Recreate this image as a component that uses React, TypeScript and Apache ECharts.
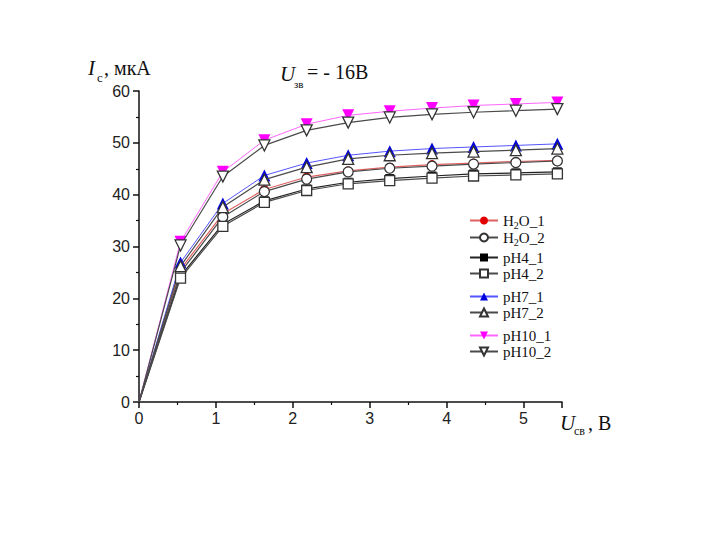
import React, { useEffect, useRef } from "react";
import * as echarts from "echarts";

const xValues = [0, 0.54, 1.09, 1.63, 2.18, 2.72, 3.26, 3.81, 4.35, 4.9, 5.44];
const h2o1 = [0, 25.6, 36.3, 41.0, 43.4, 44.6, 45.3, 45.8, 46.1, 46.4, 46.6];
const h2o2 = [0, 25.0, 35.7, 40.6, 43.0, 44.4, 45.1, 45.5, 45.9, 46.2, 46.5];
const ph41 = [0, 24.3, 34.3, 38.8, 41.1, 42.4, 43.1, 43.6, 44.0, 44.2, 44.4];
const ph42 = [0, 23.9, 33.9, 38.5, 40.8, 42.1, 42.7, 43.2, 43.6, 43.8, 44.0];
const ph71 = [0, 26.9, 38.3, 43.7, 46.1, 47.6, 48.4, 48.9, 49.2, 49.5, 49.8];
const ph72 = [0, 26.2, 37.6, 42.9, 45.3, 46.9, 47.6, 48.0, 48.3, 48.6, 48.9];
const ph101 = [0, 30.9, 44.4, 50.5, 53.6, 55.3, 56.1, 56.7, 57.2, 57.5, 57.8];
const ph102 = [0, 30.2, 43.5, 49.5, 52.4, 53.9, 54.9, 55.5, 55.9, 56.2, 56.5];

const seriesNames = ["H2O_1", "H2O_2", "pH4_1", "pH4_2", "pH7_1", "pH7_2", "pH10_1", "pH10_2"];
const xTicks = { min: 0, max: 5.5, interval: 1 };
const yTicks = { min: 0, max: 60, interval: 10 };

const serif = "Liberation Serif";
const sans = "Liberation Sans";

function pairs(ys: number[]) {
  return xValues.map((x, i) =>
    i === 0 ? { value: [x, ys[i]], symbol: "none" } : { value: [x, ys[i]] }
  );
}

export default function App() {
  const ref = useRef<HTMLDivElement>(null);
  useEffect(() => {
    if (!ref.current) return;
    const chart = echarts.init(ref.current, undefined, { renderer: "svg" });
    const gray = "#4a4a4a";
    const open = (symbol: string, rotate = 0) => ({
      symbol,
      symbolRotate: rotate,
      itemStyle: { color: "#ffffff", borderColor: "#333333", borderWidth: 1.3 },
      lineStyle: { color: gray, width: 1.2 },
    });
    const mk = (name: string, ys: number[], extra: any, z: number) => ({
      name,
      type: "line",
      data: pairs(ys),
      symbolSize: 10,
      z,
      ...extra,
    });
    const series = [
      mk(seriesNames[0], h2o1, {
        symbol: "circle",
        symbolSize: 9,
        itemStyle: { color: "#e00000" },
        lineStyle: { color: "#e06060", width: 1.2 },
      }, 2),
      mk(seriesNames[1], h2o2, { ...open("circle"), symbolSize: 10 }, 3),
      mk(seriesNames[2], ph41, {
        symbol: "rect",
        symbolSize: 9,
        itemStyle: { color: "#000000" },
        lineStyle: { color: "#222222", width: 1.2 },
      }, 2),
      mk(seriesNames[3], ph42, { ...open("rect"), symbolSize: 10 }, 3),
      mk(seriesNames[4], ph71, {
        symbol: "triangle",
        symbolSize: 12,
        itemStyle: { color: "#0000dd" },
        lineStyle: { color: "#5555ff", width: 1 },
      }, 2),
      mk(seriesNames[5], ph72, { ...open("triangle"), symbolSize: 11 }, 3),
      mk(seriesNames[6], ph101, {
        symbol: "triangle",
        symbolRotate: 180,
        symbolSize: 12,
        itemStyle: { color: "#ff00ff" },
        lineStyle: { color: "#ff66ff", width: 1 },
      }, 2),
      mk(seriesNames[7], ph102, { ...open("triangle", 180), symbolSize: 11 }, 3),
    ];

    const legendRich = {
      a: { fontFamily: serif, fontSize: 15, color: "#111", lineHeight: 16 },
      s: { fontFamily: serif, fontSize: 10, color: "#111", lineHeight: 9, padding: [9, 0, 0, 0] },
    };
    const fmt = (n: string) =>
      n.startsWith("H2O") ? `{a|H}{s|2}{a|${n.slice(2)}}` : `{a|${n}}`;
    const legendTops = [211, 250, 289, 328];
    const legendGaps = [-2, 1, 1, 1];
    const legends = legendTops.map((top, i) => ({
      data: [seriesNames[2 * i], seriesNames[2 * i + 1]],
      orient: "vertical",
      left: 469,
      top,
      padding: 0,
      itemWidth: 28,
      itemHeight: 10,
      itemGap: legendGaps[i],
      selectedMode: false,
      formatter: fmt,
      textStyle: { rich: legendRich, fontFamily: serif, fontSize: 15, color: "#111" },
    }));

    const txt = (x: number, y: number, text: string, size: number, italic = false) => ({
      type: "text",
      x,
      y,
      style: {
        text,
        fontFamily: serif,
        fontSize: size,
        fontStyle: italic ? "italic" : "normal",
        fill: "#111",
        textVerticalAlign: "middle",
      },
    });

    chart.setOption({
      animation: false,
      backgroundColor: "#ffffff",
      grid: { left: 139, right: 158, top: 91, bottom: 138 },
      legend: legends,
      xAxis: {
        type: "value",
        min: xTicks.min,
        max: xTicks.max,
        interval: xTicks.interval,
        axisLine: { show: true, lineStyle: { color: "#111", width: 1.5 } },
        axisTick: { show: true, length: 6, lineStyle: { color: "#111", width: 1.5 } },
        minorTick: { show: true, splitNumber: 2, length: 3, lineStyle: { color: "#111", width: 1.2 } },
        axisLabel: {
          fontFamily: sans,
          fontSize: 16,
          color: "#222",
          margin: 8,
          showMaxLabel: false,
        },
        splitLine: { show: false },
      },
      yAxis: {
        type: "value",
        min: yTicks.min,
        max: yTicks.max,
        interval: yTicks.interval,
        axisLine: { show: true, lineStyle: { color: "#111", width: 1.5 } },
        axisTick: { show: true, length: 6, lineStyle: { color: "#111", width: 1.5 } },
        minorTick: { show: true, splitNumber: 2, length: 3, lineStyle: { color: "#111", width: 1.2 } },
        axisLabel: { fontFamily: sans, fontSize: 16, color: "#222", margin: 9 },
        splitLine: { show: false },
      },
      graphic: [
        txt(88, 68, "I", 21, true),
        txt(97, 77, "с", 13),
        txt(104, 68, ", мкА", 20),
        txt(280, 74, "U", 21, true),
        txt(294, 84, "зв", 11),
        txt(307, 72, "= - 16В", 20),
        txt(560, 423, "U", 21, true),
        txt(574, 431, "св", 12),
        txt(588, 423, ", В", 20),
      ],
      series,
    });
    return () => chart.dispose();
  }, []);
  return (
    <div
      ref={ref}
      style={{ position: "absolute", left: 0, top: 0, width: 720, height: 540 }}
    />
  );
}
